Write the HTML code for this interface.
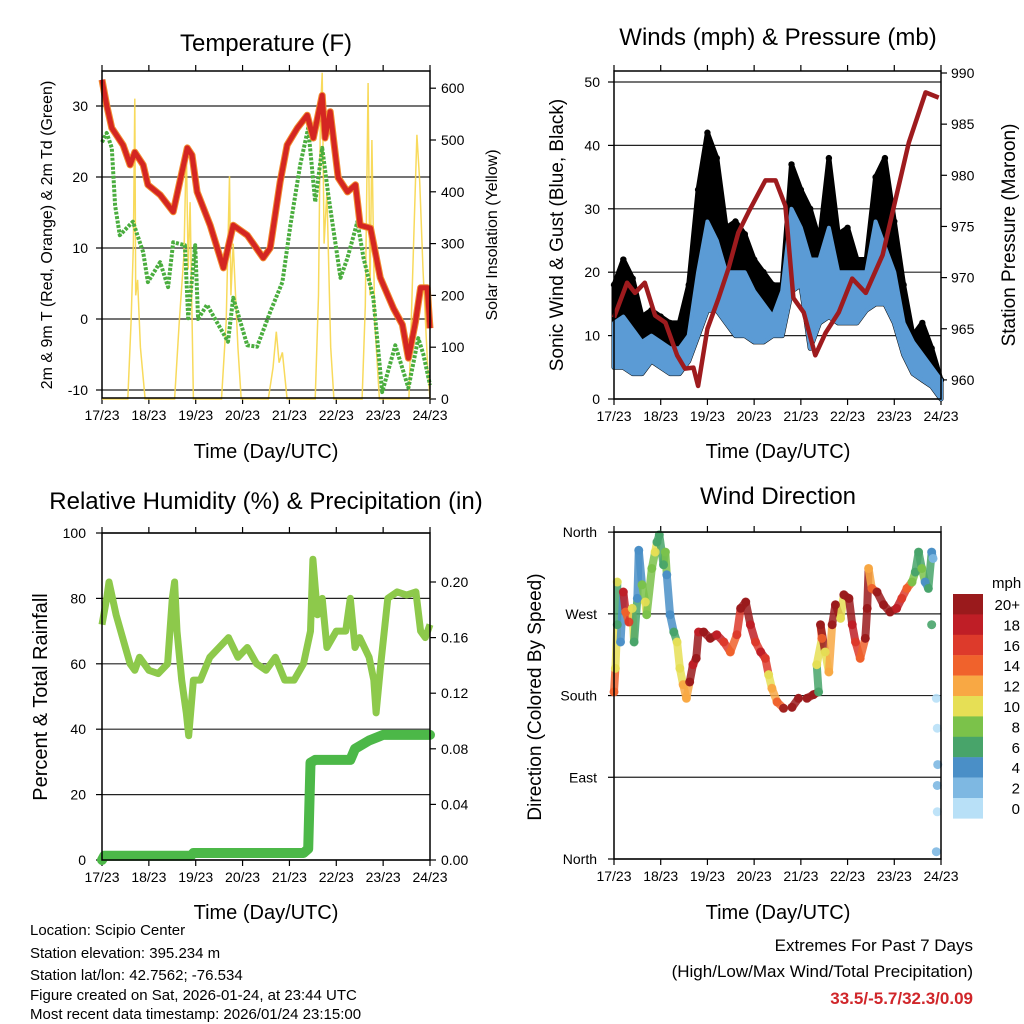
<!DOCTYPE html>
<html><head><meta charset="utf-8"><style>
html,body{margin:0;padding:0;background:#fff}
svg{display:block;font-family:"Liberation Sans",sans-serif}
</style></head><body>
<svg id="chart" width="1024" height="1024" viewBox="0 0 1024 1024" xmlns="http://www.w3.org/2000/svg">
<rect width="1024" height="1024" fill="#fff"/>
<text x="266" y="51" font-size="24" text-anchor="middle">Temperature (F)</text>
<text x="778" y="45" font-size="24" text-anchor="middle">Winds (mph) &amp; Pressure (mb)</text>
<text x="266" y="509" font-size="24" text-anchor="middle">Relative Humidity (%) &amp; Precipitation (in)</text>
<text x="778" y="504" font-size="24" text-anchor="middle">Wind Direction</text>
<text x="266" y="458" font-size="20" text-anchor="middle">Time (Day/UTC)</text>
<text x="778" y="458" font-size="20" text-anchor="middle">Time (Day/UTC)</text>
<text x="266" y="919" font-size="20" text-anchor="middle">Time (Day/UTC)</text>
<text x="778" y="919" font-size="20" text-anchor="middle">Time (Day/UTC)</text>
<text transform="translate(52,235) rotate(-90)" font-size="16" text-anchor="middle">2m &amp; 9m T (Red, Orange) &amp; 2m Td (Green)</text>
<text transform="translate(497,235) rotate(-90)" font-size="16" text-anchor="middle">Solar Insolation (Yellow)</text>
<text transform="translate(563,235) rotate(-90)" font-size="19" text-anchor="middle">Sonic Wind &amp; Gust (Blue, Black)</text>
<text transform="translate(1015,235) rotate(-90)" font-size="19" text-anchor="middle">Station Pressure (Maroon)</text>
<text transform="translate(47,697) rotate(-90)" font-size="20" text-anchor="middle">Percent &amp; Total Rainfall</text>
<text transform="translate(541,697) rotate(-90)" font-size="19" text-anchor="middle">Direction (Colored By Speed)</text>
<g font-size="15">
<text x="30" y="935">Location: Scipio Center</text>
<text x="30" y="958">Station elevation: 395.234 m</text>
<text x="30" y="980">Station lat/lon: 42.7562; -76.534</text>
<text x="30" y="1000">Figure created on Sat, 2026-01-24, at 23:44 UTC</text>
<text x="30" y="1019">Most recent data timestamp: 2026/01/24 23:15:00</text>
</g>
<text x="973" y="951" font-size="17" text-anchor="end">Extremes For Past 7 Days</text>
<text x="973" y="977" font-size="17" text-anchor="end">(High/Low/Max Wind/Total Precipitation)</text>
<text x="973" y="1004" font-size="17" font-weight="bold" fill="#d0262a" text-anchor="end">33.5/-5.7/32.3/0.09</text>
<text x="992" y="588" font-size="15">mph</text>
</svg>
<script>
// ---- data ----
var dayLabels=["17/23","18/23","19/23","20/23","21/23","22/23","23/23","24/23"];
var tempT=[0,.1,.21,.45,.6,.7,.88,.98,1.24,1.52,1.82,1.92,2.03,2.31,2.59,2.8,3.1,3.44,3.59,3.8,3.95,4.17,4.38,4.51,4.7,4.76,4.87,5.04,5.24,5.41,5.51,5.73,5.94,6.22,6.41,6.54,6.69,6.8,6.94,7.0];
var tempV=[33.7,30.1,26.9,24.5,21.7,23.5,21.7,18.9,17.5,15.1,24.1,23.1,17.9,13.2,7.2,13.2,11.8,8.6,10,19.3,24.5,26.9,28.7,25.5,31.5,25.5,29.2,19.9,17.9,18.9,13.2,12.8,5.8,1.5,-0.8,-5.5,-0.4,4.4,4.4,-1.3];
var dewT=[0,.1,.21,.28,.38,.66,.88,.98,1.24,1.41,1.52,1.77,1.84,1.99,2.05,2.24,2.69,2.8,3.1,3.31,3.59,3.85,4.02,4.23,4.4,4.55,4.7,4.83,5.09,5.24,5.45,5.58,5.79,5.98,6.26,6.54,6.75,6.86,7.0];
var dewV=[24.9,26.2,24.1,16,11.8,13.7,9.4,5.2,8,4.5,10.8,10.4,0.1,10.4,0,2,-3.2,3,-3.7,-3.9,1,5.2,13.2,21.7,26.9,16.5,24.1,17.5,5.8,8.6,13.7,8.6,3,-10.3,-3.7,-9.7,-2.7,-5,-9.3];
var solarT=[0,.55,.62,.67,.70,.72,.76,.82,.92,1.55,1.65,1.75,1.80,1.84,1.88,1.95,2.55,2.65,2.72,2.75,2.8,2.9,2.97,3.55,3.65,3.72,3.78,3.85,3.95,4.55,4.62,4.66,4.70,4.74,4.80,4.88,4.95,5.55,5.62,5.68,5.72,5.76,5.82,5.92,6.55,6.65,6.72,6.78,6.85,6.95,7.0];
var solarV=[0,0,150,300,580,200,230,100,0,0,150,280,490,250,380,0,0,150,430,200,300,100,0,0,60,130,70,90,0,0,200,550,630,300,400,100,0,0,180,610,200,500,150,0,0,300,510,420,250,60,0];
var windT=[0,.2,.4,.6,.8,1,1.2,1.4,1.6,1.8,2,2.2,2.4,2.6,2.8,3,3.2,3.4,3.6,3.8,4,4.2,4.4,4.6,4.8,5,5.2,5.4,5.6,5.8,6,6.2,6.4,6.6,6.8,7];
var windLo=[5,5,4,4,6,5,4,4,6,10,14,14,12,10,10,9,9,10,10,17,18,8,12,13,12,12,12,14,15,15,12,7,4,3,2,0];
var windHi=[12,13,11,9,10,9,8,8,10,20,28,25,20,20,20,17,15,13,17,30,27,22,22,27,20,20,20,20,28,24,20,12,9,7,5,3];
var gustV=[18,22,19,13,14,13,12,12,18,33,42,38,27,28,26,22,20,18,18,37,33,30,25,38,26,27,22,22,35,38,28,18,10,12,8,3];
var presT=[0,.28,.45,.66,.88,1.1,1.35,1.52,1.7,1.8,2.0,2.24,2.45,2.66,2.88,3.24,3.46,3.67,3.84,4.06,4.31,4.53,4.81,5.1,5.39,5.75,6.03,6.31,6.67,6.95];
var presV=[966.1,969.5,968.5,969.5,966.3,965.6,962.4,961.1,961.2,959.4,965,968,970.9,974.4,976.4,979.5,979.5,977,968,966.6,962.4,964.6,966.6,969.9,968.5,972.2,977.7,983.2,988.1,987.6];
var rhT=[0,.1,.15,.3,.5,.6,.7,.8,1,1.2,1.4,1.5,1.55,1.6,1.7,1.8,1.85,1.95,2.1,2.3,2.5,2.7,2.9,3.1,3.3,3.5,3.7,3.9,4.1,4.3,4.45,4.5,4.6,4.7,4.8,5,5.2,5.3,5.4,5.5,5.7,5.8,5.85,5.95,6.1,6.3,6.5,6.7,6.8,6.9,7];
var rhV=[72,80,85,75,65,60,58,62,58,57,60,80,85,70,55,45,38,55,55,62,65,68,62,65,60,58,62,55,55,60,70,92,75,80,65,70,70,80,65,68,62,55,45,60,80,82,81,82,70,68,72];
var rainT=[0,.05,1.9,1.95,4.3,4.4,4.45,4.55,5.3,5.4,5.7,6.0,7.0];
var rainV=[0,.003,.003,.005,.005,.008,.07,.072,.072,.08,.086,.09,.09];
var dirT=[0,.03,.07,.07,.14,.2,.25,.32,.39,.43,.5,.53,.6,.67,.7,.81,.88,.92,.97,1.06,1.1,1.13,1.2,1.28,1.35,1.41,1.48,1.55,1.62,1.69,1.76,1.81,1.92,2.06,2.2,2.35,2.49,2.63,2.71,2.82,2.92,3.03,3.14,3.24,3.31,3.38,3.49,3.63,3.81,3.95,4.13,4.27,4.38,4.34,4.45,4.42,4.52,4.6,4.67,4.74,4.85,4.92,5.03,5.1,5.17,5.27,5.38,5.42,5.45,5.52,5.63,5.77,5.91,6.05,6.16,6.27,6.38,6.45,6.52,6.59,6.66,6.73,6.8,6.83,6.8,6.9,6.92,6.93,6.92,6.92,6.9];
var dirV=[184,210,258,305,239,294,272,261,276,239,287,340,302,283,269,320,338,349,357,324,338,313,269,250,239,210,192,177,195,214,221,250,250,243,247,239,228,247,276,283,258,239,228,221,203,188,173,166,167,177,177,181,184,214,243,258,228,206,258,280,265,291,287,258,239,221,243,276,320,298,294,280,272,276,287,298,305,316,338,320,305,298,338,331,258,177,144,104,81,52,8];
var dirS=[14,10,6,10,4,18,14,16,10,6,4,4,8,10,8,8,10,6,6,6,8,4,4,6,10,10,12,12,20,18,20,18,20,20,18,16,14,16,20,20,18,16,18,16,10,12,14,20,20,20,20,20,6,10,14,20,10,12,20,20,10,20,20,18,16,14,20,20,12,14,20,20,20,18,16,14,8,6,6,8,4,6,4,2,6,0,0,2,2,0,2];
var cbLabels=["20+","18","16","14","12","10","8","6","4","2","0"];
var cbColors=["#9a1a1c","#bf1e26","#dd3a2b","#f0622c","#f8a844","#e6df55","#7bc24a","#48a46a","#4a8fc7","#7eb8e2","#b8e0f7"];

// ---- helpers ----
var NS="http://www.w3.org/2000/svg";
var svg=document.getElementById('chart');
function mk(tag,attrs,parent){var e=document.createElementNS(NS,tag);for(var k in attrs)e.setAttribute(k,attrs[k]);(parent||svg).appendChild(e);return e;}
function xS(p,d){return p.x0+d/7*(p.x1-p.x0);}
function pts(p,ts,vs,yf){var s=[];for(var i=0;i<ts.length;i++)s.push(xS(p,ts[i]).toFixed(1)+","+yf(vs[i]).toFixed(1));return s.join(" ");}

var P1={x0:102,x1:430,y0:71,y1:398};
var P2={x0:614,x1:941,y0:71,y1:399};
var P3={x0:102,x1:430,y0:533,y1:860};
var P4={x0:614,x1:941,y0:532,y1:859};
function yT(v){return 319-v*7.1;}
function ySol(v){return 399-v*0.518;}
function yW(v){return 399-v*6.34;}
function yP(v){return 73+(990-v)*10.23;}
function yRH(v){return 860-v*3.27;}
function yRain(v){return 860-v*1390;}
function yDir(v){return 859-v*0.908;}

function frame(p,name){
  var g=mk('g',{});
  
  
  for(var i=0;i<dayLabels.length;i++){
    var x=xS(p,i);
    var t=mk('line',{x1:x,x2:x,y1:p.y1,y2:p.y1+6,stroke:'#000','stroke-width':1.2},g);
    
    
    var t2=mk('line',{x1:x,x2:x,y1:p.y0,y2:p.y0-6,stroke:'#000','stroke-width':1.2},g);
    
    
    var lb=mk('text',{x:x,y:p.y1+22,'font-size':14,'text-anchor':'middle'},g);
    lb.textContent=dayLabels[i];
    
    
  }
  return g;
}
function gridY(p,vals,yf,labels,side,lx){
  for(var i=0;i<vals.length;i++){
    var y=yf(vals[i]);
    if(side==='left'){
      var gl=mk('line',{x1:p.x0,x2:p.x1,y1:y,y2:y,stroke:'#222','stroke-width':1.2});
      
      
    }
    var tk=mk('line',{x1:side==='left'?p.x0-6:p.x1,x2:side==='left'?p.x0:p.x1+6,y1:y,y2:y,stroke:'#000','stroke-width':1.2});
    
    
    var tx=mk('text',{x:lx,y:y+5,'font-size':14,'text-anchor':side==='left'?'end':'start'});
    tx.textContent=labels[i];
    
    
  }
}
function border(p,name){
  var r=mk('rect',{x:p.x0,y:p.y0,width:p.x1-p.x0,height:p.y1-p.y0,fill:'none',stroke:'#000','stroke-width':1.5});
  
  
}

// ---- Panel 1: temperature ----
frame(P1,'temperature');
gridY(P1,[30,20,10,0,-10],yT,["30","20","10","0","-10"],'left',88);
gridY(P1,[600,500,400,300,200,100,0],ySol,["600","500","400","300","200","100","0"],'right',441);
var sol=mk('polyline',{points:pts(P1,solarT,solarV,ySol),fill:'none',stroke:'#f7d64a','stroke-width':1.5,'stroke-opacity':0.9});


var dew=mk('polyline',{points:pts(P1,dewT,dewV,yT),fill:'none',stroke:'#4aad3e','stroke-width':4,'stroke-dasharray':'3,1.5','stroke-linejoin':'round'});


var t9=mk('polyline',{points:pts(P1,tempT,tempV,yT),fill:'none',stroke:'#f28b30','stroke-width':7,'stroke-linejoin':'round'});


var t2=mk('polyline',{points:pts(P1,tempT,tempV,yT),fill:'none',stroke:'#d42622','stroke-width':5,'stroke-linejoin':'round'});


border(P1,'temperature');

// ---- Panel 2: winds ----
frame(P2,'winds');
gridY(P2,[50,40,30,20,10,0],yW,["50","40","30","20","10","0"],'left',600);
gridY(P2,[990,985,980,975,970,965,960],yP,["990","985","980","975","970","965","960"],'right',951);
var gp=pts(P2,windT,gustV,yW).split(" ");
var lp=pts(P2,windT,windLo,yW).split(" ");
var hp=pts(P2,windT,windHi,yW).split(" ");
var ga=mk('polygon',{points:gp.concat(lp.slice().reverse()).join(" "),fill:'#000',stroke:'#000','stroke-width':5,'stroke-linejoin':'round'});


for(var i=0;i<windT.length;i++){
  var c=mk('circle',{cx:xS(P2,windT[i]),cy:yW(gustV[i]),r:3.2,fill:'#000'});
  
  
}
var wa=mk('polygon',{points:hp.concat(lp.slice().reverse()).join(" "),fill:'#5b9bd5',stroke:'#5b9bd5','stroke-width':4,'stroke-linejoin':'round'});


var pr=mk('polyline',{points:pts(P2,presT,presV,yP),fill:'none',stroke:'#9e1b1e','stroke-width':4.5,'stroke-linejoin':'round'});


border(P2,'winds');

// ---- Panel 3: humidity ----
frame(P3,'humidity');
gridY(P3,[100,80,60,40,20,0],yRH,["100","80","60","40","20","0"],'left',86);
gridY(P3,[0.2,0.16,0.12,0.08,0.04,0],yRain,["0.20","0.16","0.12","0.08","0.04","0.00"],'right',441);
var rh=mk('polyline',{points:pts(P3,rhT,rhV,yRH),fill:'none',stroke:'#8dc94b','stroke-width':7,'stroke-linejoin':'round'});


var rn=mk('polyline',{points:pts(P3,rainT,rainV,yRain),fill:'none',stroke:'#4cb848','stroke-width':10,'stroke-linejoin':'round','stroke-linecap':'round'});


border(P3,'humidity');

// ---- Panel 4: wind direction ----
frame(P4,'direction');
gridY(P4,[360,270,180,90,0],yDir,["North","West","South","East","North"],'left',597);
function colorFor(s){var idx=Math.round(s/2);if(idx>10)idx=10;return cbColors[10-idx];}
for(var i=0;i<dirT.length-1;i++){
  if(dirS[i]>2 && Math.abs(dirT[i+1]-dirT[i])<0.15 && Math.abs(dirV[i+1]-dirV[i])<60){
    var sg=mk('line',{x1:xS(P4,dirT[i]),y1:yDir(dirV[i]),x2:xS(P4,dirT[i+1]),y2:yDir(dirV[i+1]),stroke:colorFor(dirS[i]),'stroke-width':8,'stroke-linecap':'round','stroke-opacity':0.85});
    
    
  }
}
for(var i=0;i<dirT.length;i++){
  var d=mk('circle',{cx:xS(P4,dirT[i]),cy:yDir(dirV[i]),r:4.5,fill:colorFor(dirS[i]),'fill-opacity':0.9});
  
  
}
border(P4,'direction');

// ---- colorbar ----
for(var i=0;i<cbLabels.length;i++){
  var y=594+i*20.4;
  var b=mk('rect',{x:953,y:y,width:30,height:20.6,fill:cbColors[i]});
  
  
  var l=mk('text',{x:1020,y:y+16,'font-size':15,'text-anchor':'end'});
  l.textContent=cbLabels[i];
  
  
}
</script>
</body></html>
